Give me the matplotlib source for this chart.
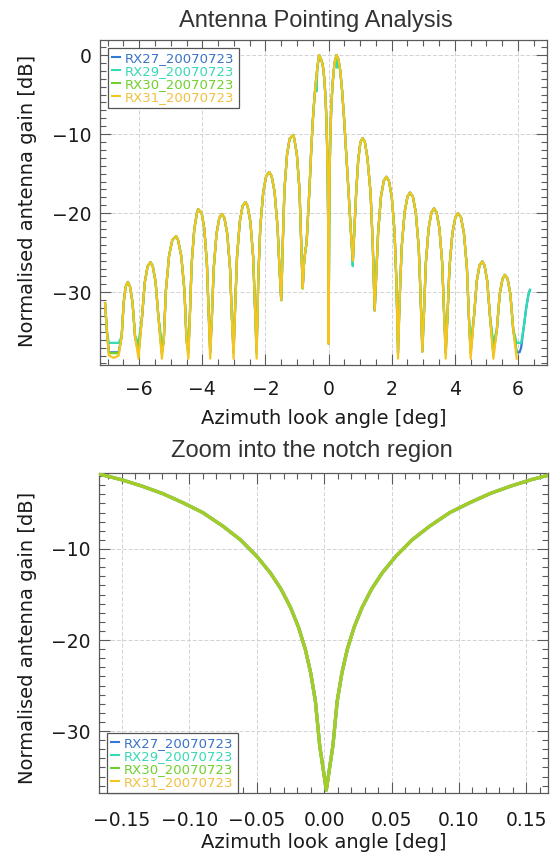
import numpy as np
import matplotlib
matplotlib.use('Agg')
from matplotlib import pyplot as plt
from matplotlib.ticker import MultipleLocator, FuncFormatter
from matplotlib.lines import Line2D

# receivers of the 2007-07-23 antenna pointing pass
receivers   = ['RX27_20070723', 'RX29_20070723', 'RX30_20070723', 'RX31_20070723']
line_colors = ['#2f7bd6', '#2fdcb4', '#6fd12c', '#f4c51f']
text_colors = ['#3a72c8', '#38d8b8', '#70d030', '#f0c040']
floor_db    = [-37.6, -36.4, -37.7, -38.4]   # noise floor at the nulls [dB]
last_angle  = [6.38, 6.38, 6.00, 6.00]       # last azimuth sample [deg]

# azimuth cut, left sidelobes [deg] / [dB]
left_angle = [-7.08, -7.02, -6.96, -6.80, -6.65,
              -6.555, -6.49, -6.43, -6.36, -6.29, -6.21, -6.13,
              -6.02,
              -5.909, -5.820, -5.731, -5.64, -5.569, -5.480, -5.391,
              -5.28,
              -5.221, -5.154, -5.053, -4.952, -4.83, -4.768, -4.667, -4.566, -4.499,
              -4.44,
              -4.392, -4.337, -4.254, -4.171, -4.13, -4.019, -3.936, -3.854, -3.798,
              -3.75,
              -3.698, -3.639, -3.550, -3.461, -3.38, -3.299, -3.210, -3.121, -3.062,
              -3.01,
              -2.959, -2.900, -2.813, -2.725, -2.63, -2.565, -2.477, -2.390, -2.331,
              -2.28,
              -2.225, -2.163, -2.069, -1.976, -1.88, -1.804, -1.711, -1.617, -1.555,
              -1.50,
              -1.452, -1.398, -1.316, -1.235, -1.12, -1.085, -1.004, -0.922, -0.868,
              -0.82,
              -0.78, -0.73, -0.70, -0.66, -0.60, -0.55, -0.50, -0.45, -0.40, -0.35,
              -0.30, -0.24, -0.20]
left_gain = [-31.4, -35.0, -38.0, -38.3, -38.0,
             -35.6, -31.3, -29.3, -28.7, -29.3, -31.3, -35.6,
             -38.4,
             -33.1, -28.7, -26.7, -26.2, -26.7, -28.7, -33.1,
             -38.4,
             -36.1, -29.8, -25.4, -23.4, -22.9, -23.4, -25.4, -29.8, -36.1,
             -38.4,
             -32.7, -26.4, -22.0, -20.0, -19.5, -20.0, -22.0, -26.4, -32.7,
             -38.4,
             -33.3, -27.0, -22.6, -20.6, -20.1, -20.6, -22.6, -27.0, -33.3,
             -38.4,
             -31.8, -25.5, -21.1, -19.1, -18.6, -19.1, -21.1, -25.5, -31.8,
             -38.4,
             -28.0, -21.7, -17.3, -15.3, -14.8, -15.3, -17.3, -21.7, -27.0,
             -31.0,
             -24.0, -17.0, -12.6, -10.6, -10.1, -10.6, -12.6, -17.0, -23.5,
             -29.5,
             -26.5, -24.5, -24.0, -21.0, -16.5, -12.0, -8.3, -5.5, -3.3, -1.4,
             0.0, -0.5, -1.0]

# notch region around boresight
zoom_angle = [-0.166, -0.150, -0.135, -0.120, -0.105, -0.090, -0.075, -0.062,
              -0.050, -0.040, -0.032, -0.025, -0.019, -0.014, -0.010, -0.0065,
              -0.0033, 0.0016, 0.0065, 0.0097, 0.0132, 0.0172, 0.0222, 0.0282,
              0.0352, 0.0432, 0.0532, 0.0652, 0.0782, 0.0932, 0.1082, 0.1232,
              0.1382, 0.1532, 0.166]
zoom_gain = [-1.8, -2.4, -3.1, -3.9, -4.9, -6.0, -7.5, -9.0,
             -10.8, -12.6, -14.4, -16.4, -18.6, -21.0, -23.6, -26.7,
             -31.6, -36.5, -31.6, -26.7, -23.6, -21.0, -18.6, -16.4,
             -14.4, -12.6, -10.8, -9.0, -7.5, -6.0, -4.9, -3.9,
             -3.1, -2.4, -1.9]

# right sidelobes
right_angle = [0.20, 0.25, 0.31, 0.37, 0.43, 0.49, 0.55, 0.61, 0.67, 0.72, 0.77,
               0.818, 0.874, 0.94, 1.01, 1.08, 1.15, 1.23, 1.33, 1.40,
               1.46,
               1.512, 1.571, 1.660, 1.749, 1.83, 1.911, 2.000, 2.089, 2.148,
               2.20,
               2.254, 2.316, 2.408, 2.500, 2.575, 2.670, 2.762, 2.855, 2.916,
               2.97,
               3.022, 3.081, 3.170, 3.259, 3.34, 3.421, 3.510, 3.599, 3.658,
               3.71,
               3.765, 3.829, 3.923, 4.018, 4.10, 4.192, 4.287, 4.382, 4.445,
               4.50,
               4.608, 4.694, 4.781, 4.87, 4.939, 5.026, 5.112,
               5.22,
               5.331, 5.420, 5.509, 5.585, 5.671, 5.760, 5.849,
               5.96,
               6.05, 6.10, 6.18, 6.26, 6.33, 6.38]
right_gain = [-0.8, 0.0, -0.5, -2.0, -4.6, -8.0, -11.8, -15.8, -19.8, -23.2, -26.0,
              -22.0, -17.4, -13.2, -11.0, -10.5, -11.0, -13.0, -17.4, -24.0,
              -32.3,
              -27.5, -22.3, -17.9, -15.9, -15.4, -15.9, -17.9, -22.3, -28.6,
              -38.4,
              -30.6, -24.3, -19.9, -17.9, -17.4, -17.9, -19.9, -24.3, -30.6,
              -37.5,
              -32.6, -26.3, -21.9, -19.9, -19.4, -19.9, -21.9, -26.3, -32.6,
              -38.4,
              -33.2, -26.9, -22.5, -20.5, -20.0, -20.5, -22.5, -26.9, -33.2,
              -38.4,
              -33.0, -28.6, -26.6, -26.1, -26.6, -28.6, -33.0,
              -38.4,
              -34.7, -30.3, -28.3, -27.8, -28.3, -30.3, -34.7,
              -38.4,
              -38.4, -37.0, -34.5, -32.0, -30.3, -29.7]

# extra dips only seen on RX29
rx29_dip_angle = [-0.385, 0.265, 0.765]
rx29_dip_gain  = [-4.6, -1.6, -26.7]

angle = np.array(left_angle + zoom_angle + right_angle)
gain  = np.array(left_gain + zoom_gain + right_gain)

def receiver_cut(i, a, g):
    if receivers[i].startswith('RX29'):
        a = np.concatenate([a, rx29_dip_angle])
        g = np.concatenate([g, rx29_dip_gain])
        o = np.argsort(a)
        a, g = a[o], g[o]
    m = a <= last_angle[i]
    return a[m], np.maximum(g[m], floor_db[i])

MINUS = u'\u2212'
def fmt_int(v, pos):
    return ('%d' % round(v)).replace('-', MINUS)
def fmt_2f(v, pos):
    s = '%.2f' % v
    if s == '-0.00':
        s = '0.00'
    return s.replace('-', MINUS)

def style_axes(ax):
    for sp in ax.spines.values():
        sp.set_color('#5a5a5a')
        sp.set_linewidth(0.9)
    ax.tick_params(which='both', direction='in', top=True, right=True,
                   color='#5a5a5a', width=0.8, labelsize=13.5, labelcolor='#1a1a1a')
    ax.tick_params(which='major', length=8)
    ax.tick_params(which='minor', length=4)
    ax.tick_params(axis='x', pad=11)
    ax.tick_params(axis='y', pad=6)
    ax.grid(which='major', color='#d2d2d2', lw=0.7, ls=(0, (4, 2)))
    ax.set_axisbelow(True)

def add_legend(ax, loc, anchor):
    handles = [Line2D([], [], color=c, lw=1.5) for c in line_colors]
    leg = ax.legend(handles, receivers, loc=loc, bbox_to_anchor=anchor,
                    borderaxespad=0, fontsize=9.5, handlelength=0.6,
                    handletextpad=0.4, borderpad=0.3, labelspacing=0.0,
                    fancybox=False, framealpha=1, edgecolor='#555555')
    leg.get_frame().set_linewidth(0.9)
    for t, c in zip(leg.get_texts(), text_colors):
        t.set_color(c)
    return leg

fig = plt.figure(figsize=(5.52, 8.57), dpi=100)

# full azimuth cut
ax1 = fig.add_axes([0.1812, 0.5741, 0.8098, 0.3792])
for i in range(len(receivers)):
    a, g = receiver_cut(i, angle, gain)
    ax1.plot(a, g, color=line_colors[i], lw=1.6, zorder=3 + i)
ax1.set_xlim(-7.24, 6.92)
ax1.set_ylim(-39.2, 1.9)
ax1.xaxis.set_major_locator(MultipleLocator(2))
ax1.xaxis.set_minor_locator(MultipleLocator(0.5))
ax1.yaxis.set_major_locator(MultipleLocator(10))
ax1.yaxis.set_minor_locator(MultipleLocator(1))
ax1.xaxis.set_major_formatter(FuncFormatter(fmt_int))
ax1.yaxis.set_major_formatter(FuncFormatter(fmt_int))
style_axes(ax1)
add_legend(ax1, 'upper left', (0.018, 0.975))

# notch zoom, RX30 drawn last and semi-transparent over RX31
za = np.array(zoom_angle)
zg = np.array(zoom_gain)
ax2 = fig.add_axes([0.1793, 0.0747, 0.8134, 0.3734])
for z, i in enumerate([0, 1, 3, 2]):
    a, g = receiver_cut(i, za, zg)
    keep = (a >= za[0]) & (a <= za[-1])
    ax2.plot(a[keep], g[keep], color=line_colors[i], lw=2.3, zorder=3 + z,
             alpha=0.6 if i == 2 else 1.0)
ax2.set_xlim(-0.167, 0.166)
ax2.set_ylim(-36.8, -1.65)
ax2.xaxis.set_major_locator(MultipleLocator(0.05))
ax2.xaxis.set_minor_locator(MultipleLocator(0.01))
ax2.yaxis.set_major_locator(MultipleLocator(10))
ax2.yaxis.set_minor_locator(MultipleLocator(1))
ax2.xaxis.set_major_formatter(FuncFormatter(fmt_2f))
ax2.yaxis.set_major_formatter(FuncFormatter(fmt_int))
style_axes(ax2)
ax2.tick_params(axis='x', pad=13)
add_legend(ax2, 'lower left', (0.018, 0.0))

W, H = 552.0, 857.0
title_kw = dict(family='Liberation Sans', fontsize=17, color='#333333',
                ha='center', va='center')
fig.text(316 / W, 1 - 21 / H, 'Antenna Pointing Analysis', **title_kw)
fig.text(312 / W, 1 - 451 / H, 'Zoom into the notch region', **title_kw)

label_kw = dict(fontsize=14, color='#1a1a1a', ha='center', va='center')
fig.text(324 / W, 1 - 419 / H, 'Azimuth look angle [deg]', **label_kw)
fig.text(324 / W, 1 - 843 / H, 'Azimuth look angle [deg]', **label_kw)
fig.text(28 / W, 1 - 201 / H, 'Normalised antenna gain [dB]', rotation=90, **label_kw)
fig.text(28 / W, 1 - 638 / H, 'Normalised antenna gain [dB]', rotation=90, **label_kw)

fig.savefig('out.png', dpi=100)
